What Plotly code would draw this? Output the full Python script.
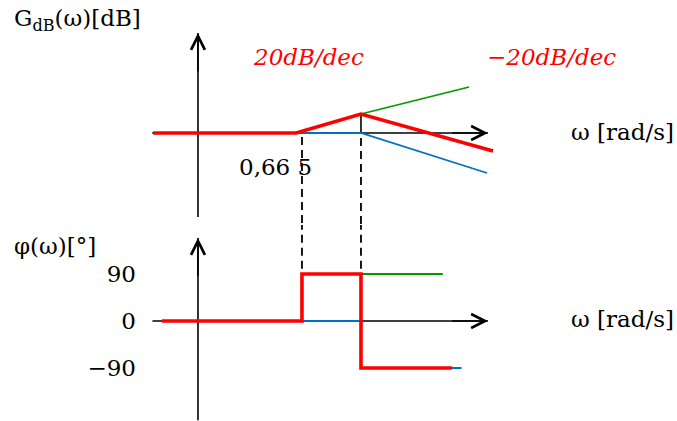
import numpy as np
import plotly.graph_objects as go

# break frequencies [rad/s]
w_low = 0.66
w_high = 5

# magnitude sketch (omega [rad/s], gain [dB])
mag_red_w = [0.004, 0.54, 5, 464]
mag_red_db = [0, 0, 19, -18]
mag_green_w = [0.0039, 0.54, 5, 204]
mag_green_db = [0, 0, 19, 46]
mag_blue_w = [0.0039, 5, 378]
mag_blue_db = [0, 0, -40]

# phase sketch (omega [rad/s], phase [deg])
ph_red_w = [0.0054, 0.66, 0.66, 5, 5, 113]
ph_red_deg = [0, 0, 90, 90, -90, -90]
ph_green_w = [0.0054, 0.66, 0.66, 83]
ph_green_deg = [0, 0, 90, 90]
ph_blue_w = [0.0054, 5, 5, 158]
ph_blue_deg = [0, 0, -90, -90]

phase_ticks = [90, 0, -90]
phase_ticktext = ["90", "0", "\u221290"]

# drawn axes
axis_w = [0.0039, 391]
axis_w0 = 0.0186
mag_axis_db = [-84, 100]
ph_axis_deg = [-190, 159]

W, H = 677, 421
FONT = "DejaVu Serif"
RED, GREEN, BLUE = "#ff0000", "#009a00", "#0070c0"

lg = np.log10
xr = [-4.681, 5.409]

fig = go.Figure()


def line(x, y, color, width, ax="", dash=None):
    fig.add_trace(go.Scatter(x=lg(np.array(x, dtype=float)), y=y, mode="lines",
                             line=dict(color=color, width=width, dash=dash),
                             xaxis="x" + ax, yaxis="y" + ax, hoverinfo="skip"))


# axes lines (under the curves)
line(axis_w, [0, 0], "black", 1.6)
line([axis_w0, axis_w0], mag_axis_db, "black", 1.6)
line(axis_w, [0, 0], "black", 1.6, "2")
line([axis_w0, axis_w0], ph_axis_deg, "black", 1.6, "2")

# dashed guides at the break frequencies
line([w_low, w_low], [-4, -95], "black", 1.8, dash="8px,5px")
line([w_high, w_high], [19, 0], "black", 1.6)
line([w_high, w_high], [-5, -95], "black", 1.8, dash="8px,5px")
line([w_low, w_low], [190, 90], "black", 1.8, "2", dash="8px,5px")
line([w_high, w_high], [190, 90], "black", 1.8, "2", dash="8px,5px")

# magnitude
line(mag_green_w, mag_green_db, GREEN, 1.8)
line(mag_blue_w, mag_blue_db, BLUE, 1.8)
line(mag_red_w, mag_red_db, RED, 3.6)

# phase
line(ph_green_w, ph_green_deg, GREEN, 1.8, "2")
line(ph_blue_w, ph_blue_deg, BLUE, 1.8, "2")
line(ph_red_w, ph_red_deg, RED, 3.6, "2")

split = 1 - 225 / H


def arrow(x, y, ax, ay, sub=""):
    fig.add_annotation(x=lg(x), y=y, ax=lg(ax), ay=ay, xref="x" + sub, yref="y" + sub,
                       axref="x" + sub, ayref="y" + sub, text="", showarrow=True,
                       arrowhead=5, arrowsize=1.7, arrowwidth=1.6, arrowcolor="black")


arrow(axis_w0, mag_axis_db[1], axis_w0, mag_axis_db[1] - 40)
arrow(axis_w[1], 0, axis_w[1] / 3.6, 0)
arrow(axis_w0, ph_axis_deg[1], axis_w0, ph_axis_deg[1] - 75, "2")
arrow(axis_w[1], 0, axis_w[1] / 3.6, 0, "2")


def label(text, x, y, xanchor="left", color="black", size=23):
    fig.add_annotation(x=x / W, y=1 - y / H, xref="paper", yref="paper", text=text,
                       showarrow=False, xanchor=xanchor, yanchor="middle",
                       font=dict(family=FONT, size=size, color=color))


label("G<sub>dB</sub>(\u03c9)[dB]", 12, 20)
label("<i>20dB/dec</i>", 251, 57, color=RED)
label("<i>\u221220dB/dec</i>", 485, 57, color=RED)
label("\u03c9 [rad/s]", 569, 132)
label("0,66 5", 237, 167)
label("\u03c6(\u03c9)[\u00b0]", 12, 246)
label("\u03c9 [rad/s]", 569, 319)

hidden = dict(visible=False, range=xr, fixedrange=True)
fig.update_layout(
    width=W, height=H, margin=dict(l=0, r=0, t=0, b=0),
    paper_bgcolor="white", plot_bgcolor="white", showlegend=False,
    xaxis=dict(hidden, anchor="y"),
    xaxis2=dict(hidden, anchor="y2"),
    yaxis=dict(visible=False, domain=[split, 1], range=[-92, 133]),
    yaxis2=dict(domain=[0, split], range=[-191.49, 183.83], anchor="free",
                position=198 / W, tickvals=phase_ticks, ticktext=phase_ticktext,
                ticks="", showgrid=False, zeroline=False, showline=False,
                ticklabelstandoff=62, tickfont=dict(family=FONT, size=23, color="black")),
)

fig.write_html("out.html", config={"displayModeBar": False},
               post_script="document.body.style.margin='0';")
